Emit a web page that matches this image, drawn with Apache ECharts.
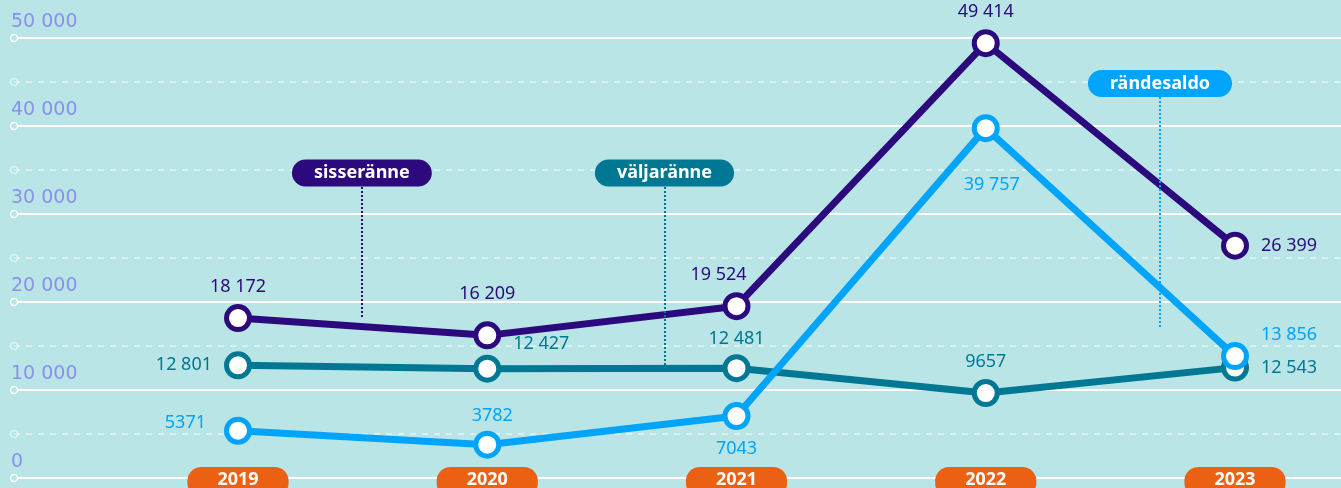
<!DOCTYPE html>
<html>
<head>
<meta charset="utf-8">
<script src="https://cdn.jsdelivr.net/npm/echarts@6/dist/echarts.min.js"></script>
<style>
  html, body { margin: 0; padding: 0; background: #b9e5e6; }
  #chart { width: 1341px; height: 488px; }
</style>
</head>
<body>
<div id="chart"></div>
<script>
const years = [2019, 2020, 2021, 2022, 2023]
const sisseranne = [18172, 16209, 19524, 49414, 26399]
const valjaranne = [12801, 12427, 12481, 9657, 12543]
const randesaldo = [5371, 3782, 7043, 39757, 13856]
const yTicks = [0, 5000, 10000, 15000, 20000, 25000, 30000, 35000, 40000, 45000, 50000]

const colors = {
  sisse: '#2c0a7e',
  valja: '#007893',
  saldo: '#00a4fb',
  year: '#ec6013',
  axis: '#8b90ea'
}
const font = 'Noto Sans'

function fmt(v) {
  if (v < 10000) return String(v)
  return String(v).replace(/\B(?=(\d{3})+(?!\d))/g, ' ')
}

// label placement per point
const sisseLabels = [
  { position: 'top', distance: 8 },
  { position: 'top', distance: 18 },
  { position: 'top', distance: 8, offset: [-18, 0] },
  { position: 'top', distance: 8 },
  { position: 'right', distance: 12 }
]
const valjaLabels = [
  { position: 'left', distance: 12 },
  { position: 'top', distance: 2, offset: [54, 0] },
  { position: 'top', distance: 6 },
  { position: 'top', distance: 8 },
  { position: 'right', distance: 12 }
]
const saldoLabels = [
  { position: 'left', distance: 18, offset: [0, -8] },
  { position: 'top', distance: 6, offset: [5, 0] },
  { position: 'bottom', distance: 10 },
  { position: 'bottom', distance: 34, offset: [6, 0] },
  { position: 'right', distance: 12, offset: [0, -21] }
]

function lineSeries(name, values, color, labels) {
  return {
    name: name,
    type: 'line',
    xAxisIndex: 1,
    yAxisIndex: 1,
    data: years.map((y, i) => ({ value: [y, values[i]], label: labels[i] })),
    symbol: 'circle',
    symbolSize: 23,
    lineStyle: { color: color, width: 7 },
    itemStyle: { color: '#ffffff', borderColor: color, borderWidth: 5 },
    label: {
      show: true,
      color: color,
      fontFamily: font,
      fontSize: 18,
      formatter: p => fmt(p.value[1])
    },
    emphasis: { disabled: true },
    z: 3
  }
}

function pill(name, color, x, yPill, yTop, yBottom) {
  return {
    markPoint: {
      silent: true,
      symbol: 'circle',
      symbolSize: 0,
      data: [{ coord: [x, yPill] }],
      label: {
        show: true,
        position: 'inside',
        formatter: name,
        color: '#ffffff',
        fontFamily: font,
        fontWeight: 'bold',
        fontSize: 18,
        backgroundColor: color,
        borderRadius: 14,
        padding: [4, 22, 5, 22]
      }
    },
    markLine: {
      silent: true,
      symbol: ['none', 'none'],
      label: { show: false },
      lineStyle: { color: color, type: 'dotted', width: 2 },
      data: [[{ coord: [x, yTop] }, { coord: [x, yBottom] }]]
    }
  }
}

const chart = echarts.init(document.getElementById('chart'))

const sisseSeries = Object.assign(lineSeries('sisseränne', sisseranne, colors.sisse, sisseLabels),
  pill('sisseränne', colors.sisse, 2019.497, 34660, 33070, 18300))
const valjaSeries = Object.assign(lineSeries('väljaränne', valjaranne, colors.valja, valjaLabels),
  pill('väljaränne', colors.valja, 2020.711, 34660, 33070, 12050))
const saldoSeries = Object.assign(lineSeries('rändesaldo', randesaldo, colors.saldo, saldoLabels),
  pill('rändesaldo', colors.saldo, 2022.699, 44830, 43300, 17160))

chart.setOption({
  backgroundColor: '#b9e5e6',
  animation: false,
  grid: [
    { left: 14, right: 0, top: 38, bottom: 10, outerBoundsMode: 'none' },
    { left: 238, right: 106, top: 38, bottom: 10, outerBoundsMode: 'none' }
  ],
  xAxis: [
    { gridIndex: 0, type: 'value', min: 0, max: 1, show: false },
    {
      gridIndex: 1,
      type: 'value',
      min: 2019,
      max: 2023,
      interval: 1,
      axisLine: { show: false },
      axisTick: { show: false },
      splitLine: { show: false },
      axisLabel: {
        margin: -11,
        formatter: v => String(v),
        color: '#ffffff',
        fontFamily: font,
        fontWeight: 'bold',
        fontSize: 18,
        backgroundColor: colors.year,
        borderRadius: 14,
        padding: [4, 30, 8, 30]
      }
    }
  ],
  yAxis: [
    {
      gridIndex: 0,
      type: 'value',
      min: 0,
      max: 50000,
      interval: 10000,
      axisLine: { show: false },
      axisTick: { show: false },
      axisLabel: {
        inside: true,
        margin: -3,
        verticalAlign: 'bottom',
        padding: [0, 0, 6, 0],
        color: colors.axis,
        fontFamily: 'DejaVu Sans',
        fontSize: 19,
        formatter: v => fmt(v)
      },
      splitLine: { lineStyle: { color: '#ffffff', width: 2 } },
      minorTick: { show: false, splitNumber: 2 },
      minorSplitLine: { show: true, lineStyle: { color: 'rgba(255,255,255,0.6)', width: 1.5, type: [6, 6] } }
    },
    { gridIndex: 1, type: 'value', min: 0, max: 50000, show: false }
  ],
  series: [
    {
      type: 'scatter',
      xAxisIndex: 0,
      yAxisIndex: 0,
      silent: true,
      clip: false,
      symbol: 'circle',
      symbolSize: 7,
      data: yTicks.map(v => ({
        value: [0, v],
        itemStyle: { opacity: v % 10000 === 0 ? 1 : 0.55 }
      })),
      itemStyle: { color: '#b9e5e6', borderColor: '#ffffff', borderWidth: 1.5 },
      z: 2
    },
    valjaSeries,
    saldoSeries,
    sisseSeries
  ]
})
</script>
</body>
</html>
